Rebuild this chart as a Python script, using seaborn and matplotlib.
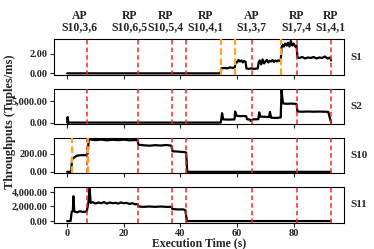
import matplotlib
matplotlib.use("Agg")
import matplotlib.pyplot as plt
import seaborn as sns
import pandas as pd
from matplotlib.ticker import FuncFormatter

# Throughput series (time in s, value in tuples/ms)
s1_t = [0, 54.2, 54.4, 55.5, 56.5, 57.5, 58.5, 59.2, 59.5, 60, 60.5, 61, 61.5, 62, 62.5, 63,
        63.3, 64, 65, 66, 67.3, 67.6, 68, 68.5, 69, 69.5, 70, 70.5, 71, 71.5, 72, 72.5, 73,
        73.5, 74, 74.5, 75.4, 75.7, 76, 76.5, 77, 77.5, 78, 78.5, 79, 79.5, 80, 80.5, 81,
        81.3, 82, 83, 84, 85, 86, 87, 88, 89, 90, 91, 92, 92.8, 93.2]
s1_v = [0, 0, 0.5, 0.55, 0.5, 0.6, 0.55, 0.6, 1.2, 1.1, 1.35, 1.2, 1.3, 1.1, 1.25, 1.15,
        0.5, 0.45, 0.5, 0.45, 0.5, 1.1, 1.3, 0.9, 1.4, 1.0, 1.2, 1.35, 1.1, 1.25, 1.2, 1.35, 1.15,
        1.3, 1.2, 1.3, 1.25, 2.6, 2.9, 2.7, 3.0, 2.8, 3.1, 2.7, 3.27, 2.8, 3.0, 2.7, 2.8,
        1.6, 1.55, 1.65, 1.5, 1.6, 1.55, 1.65, 1.5, 1.6, 1.55, 1.7, 1.5, 1.6, 1.3]

s2_t = [0, 0.15, 0.4, 54.2, 54.4, 54.7, 55.1, 57, 59.1, 59.3, 59.8, 61, 62.5, 63.2, 63.5,
        64.5, 64.8, 65.5, 67.5, 67.8, 68.2, 70, 71.3, 71.6, 72, 74, 75.4, 75.7, 76.2, 77.5,
        79, 80.5, 81, 81.3, 83, 85, 87, 89, 91, 92.2, 93.2]
s2_v = [0, 1300, 0, 0, 700, 2200, 750, 700, 750, 2600, 1600, 1500, 1550, 1500, 800,
        700, 400, 750, 800, 2400, 1400, 1350, 1300, 2500, 1150, 1100, 1200, 7600, 4500, 4400,
        4450, 4400, 4350, 2600, 2550, 2600, 2550, 2580, 2550, 2500, 0]

s10_t = [0, 1.4, 1.7, 2.5, 3.5, 5, 6.7, 7.2, 7.6, 8, 10, 12, 14, 16, 18, 20, 22, 24.8,
         25.2, 27, 29, 31, 33, 35, 36.8, 37.2, 39, 41, 42, 42.4, 93]
s10_v = [0, 0, 140, 160, 180, 185, 185, 200, 355, 360, 352, 358, 350, 356, 352, 357, 350, 353,
         300, 295, 290, 296, 292, 298, 290, 228, 225, 220, 215, 0, 0]

s11_t = [0, 1.2, 1.6, 2.0, 2.2, 2.5, 3.5, 4.5, 5.5, 6.7, 7.0, 7.5, 7.9, 8.3, 9, 10, 11, 12,
         13, 14, 15, 16, 17, 18, 19, 20, 21, 22, 23, 24, 24.8, 25.2, 27, 29, 31, 33, 35,
         36.8, 37.2, 39, 41, 41.7, 42.3, 93]
s11_v = [0, 0, 1300, 1400, 3400, 1300, 1200, 1350, 1250, 1300, 1500, 2600, 4450, 2500, 2600,
         2400, 2550, 2450, 2600, 2400, 2550, 2450, 2500, 2400, 2550, 2450, 2500, 2350, 2450,
         2300, 2350, 2000, 1950, 2000, 1950, 2000, 1950, 1950, 1650, 1600, 1600, 1500, 0, 0]

stage_names = ["S1", "S2", "S10", "S11"]
stage_ticks = [[0, 2], [0, 5000], [0, 200], [0, 2000, 4000]]

# reconfiguration events
red_events = [7, 25, 37, 42, 65.4, 81, 93]
orange_s1 = [54.3, 59.4, 75.6]
orange_s10 = [1.8, 7.5]

event_labels = ["AP\nS10,3,6", "RP\nS10,6,5", "RP\nS10,5,4", "RP\nS10,4,1",
                "AP\nS1,3,7", "RP\nS1,7,4", "RP\nS1,4,1"]
event_label_x = [4.4, 22, 34.6, 48.8, 65, 81, 93]

sns.set_style("ticks")
plt.rcParams["font.family"] = ["Liberation Serif", "DejaVu Serif"]
plt.rcParams["font.weight"] = "bold"

fig, axes = plt.subplots(4, 1, figsize=(3.74, 2.49), dpi=100, sharex=True)
fig.subplots_adjust(left=54 / 374, right=344.3 / 374, top=1 - 39.3 / 249,
                    bottom=1 - 222.7 / 249, hspace=0.38)

series = [(s1_t, s1_v), (s2_t, s2_v), (s10_t, s10_v), (s11_t, s11_v)]
fmt = FuncFormatter(lambda v, p: "{:,.2f}".format(v))

for ax, (t, v), name, ticks in zip(axes, series, stage_names, stage_ticks):
    df = pd.DataFrame({"t": t, "v": v})
    sns.lineplot(data=df, x="t", y="v", ax=ax, color="black", lw=1.6, sort=False)
    for x in red_events:
        ax.axvline(x, color="#ff2222", ls=(0, (3, 2)), lw=1.1, zorder=3)
    ax.set_yticks(ticks)
    ax.yaxis.set_major_formatter(fmt)
    ax.tick_params(axis="both", labelsize=7.5, length=3, width=0.8, pad=1.5)
    for lab in ax.get_yticklabels():
        lab.set_fontweight("bold")
    ax.set_xlabel("")
    ax.set_ylabel("")
    for sp in ax.spines.values():
        sp.set_visible(True)
        sp.set_linewidth(0.8)
        sp.set_color("black")
    ax.text(1.02, 0.5, name, transform=ax.transAxes, fontsize=8,
            fontweight="bold", va="center", ha="left")

for x in orange_s1:
    axes[0].axvline(x, color="#ffa51a", ls=(0, (3, 1.5)), lw=1.6, zorder=3)
for x in orange_s10:
    axes[2].axvline(x, color="#ffa51a", ls=(0, (3, 1.5)), lw=1.6, zorder=3)

axes[-1].set_xticks([0, 20, 40, 60, 80])
for lab in axes[-1].get_xticklabels():
    lab.set_fontweight("bold")

for x, lab in zip(event_label_x, event_labels):
    axes[0].text(x, 1.16, lab, transform=axes[0].get_xaxis_transform(), ha="center",
                 va="bottom", fontsize=8.5, fontweight="bold", linespacing=0.95)

fig.text(199 / 374, 1 - 243 / 249, "Execution Time (s)", ha="center", va="center",
         fontsize=8.5, fontweight="bold")
fig.text(10 / 374, 0.51, "Throughputs (Tuples/ms)", rotation=90, ha="center", va="center",
         fontsize=9, fontweight="bold")

fig.savefig("out.png", dpi=100)
